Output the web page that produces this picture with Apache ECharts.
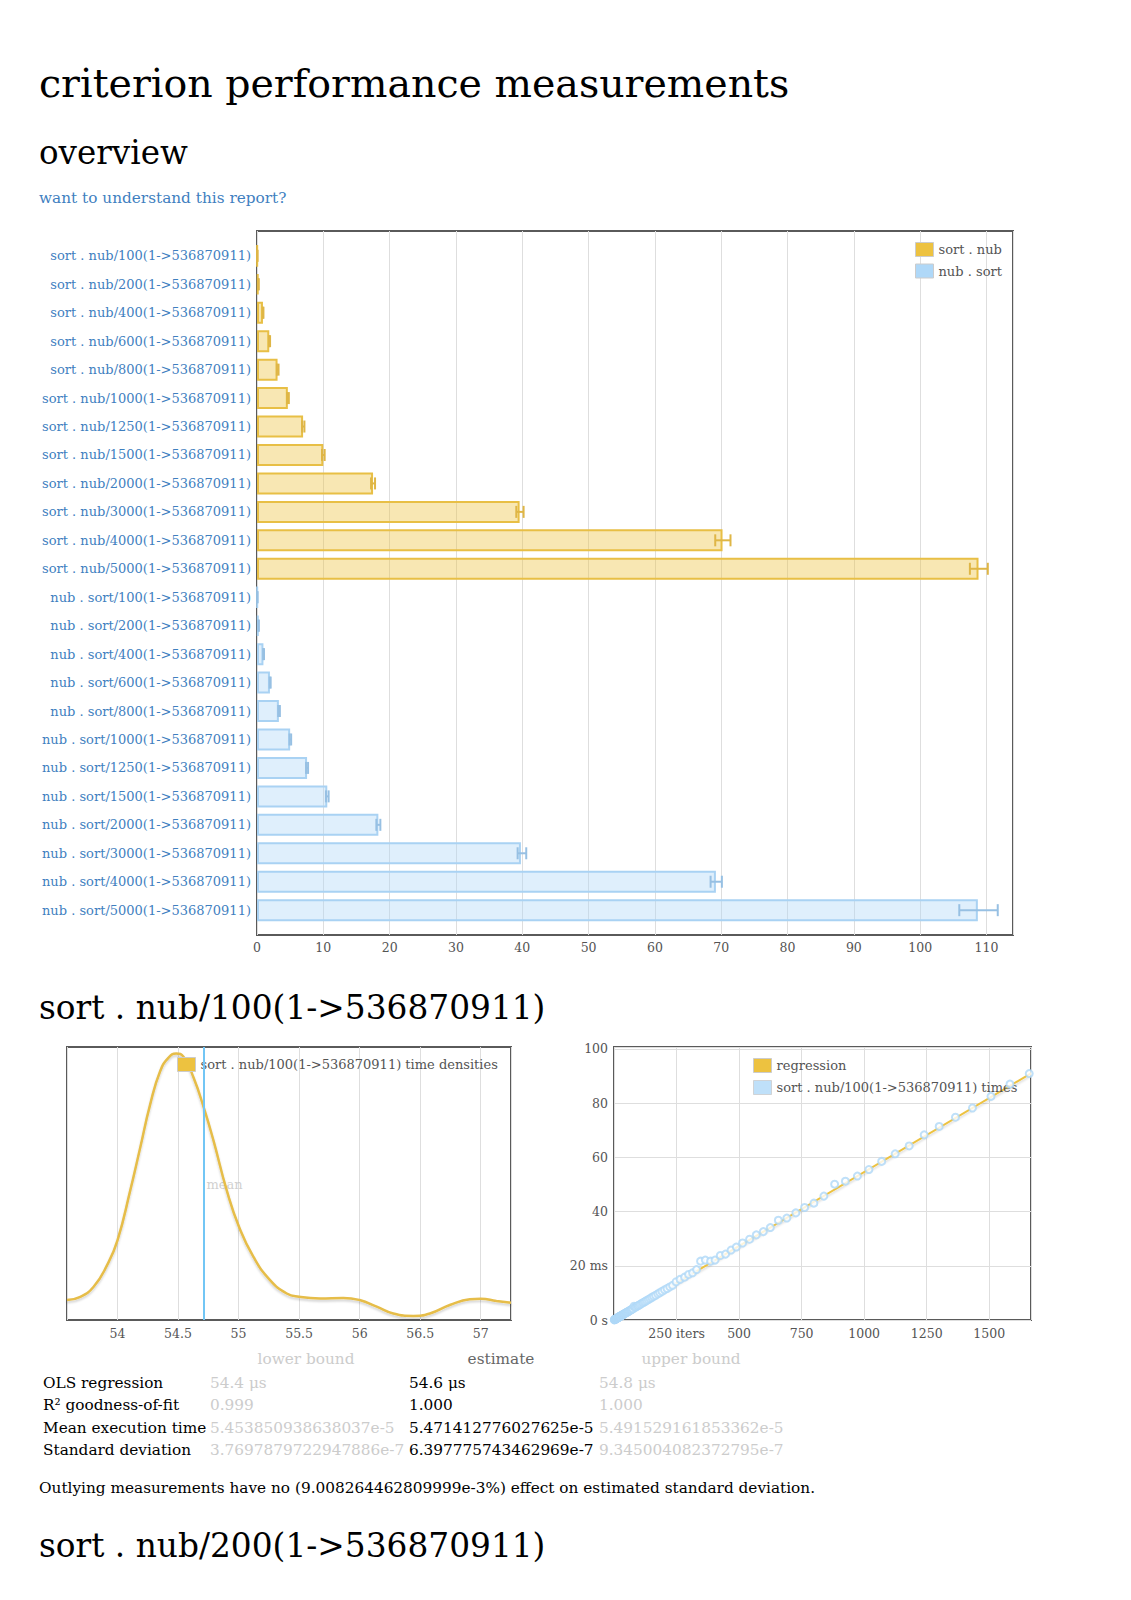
<!DOCTYPE html>
<html><head><meta charset="utf-8">
<script src="https://cdn.jsdelivr.net/npm/echarts@6/dist/echarts.min.js"></script>
<style>html,body{margin:0;padding:0;background:#fff}#c{width:1131px;height:1600px}</style>
</head><body><div id="c"></div>
<script>
// ---------- data ----------
var sortNubLabels = ['sort . nub/100(1->536870911)','sort . nub/200(1->536870911)','sort . nub/400(1->536870911)','sort . nub/600(1->536870911)','sort . nub/800(1->536870911)','sort . nub/1000(1->536870911)','sort . nub/1250(1->536870911)','sort . nub/1500(1->536870911)','sort . nub/2000(1->536870911)','sort . nub/3000(1->536870911)','sort . nub/4000(1->536870911)','sort . nub/5000(1->536870911)'];
var nubSortLabels = ['nub . sort/100(1->536870911)','nub . sort/200(1->536870911)','nub . sort/400(1->536870911)','nub . sort/600(1->536870911)','nub . sort/800(1->536870911)','nub . sort/1000(1->536870911)','nub . sort/1250(1->536870911)','nub . sort/1500(1->536870911)','nub . sort/2000(1->536870911)','nub . sort/3000(1->536870911)','nub . sort/4000(1->536870911)','nub . sort/5000(1->536870911)'];
var sortNubMean = [0.055, 0.22, 0.9, 1.85, 3.1, 4.65, 6.95, 10.0, 17.5, 39.6, 70.2, 108.8];
var sortNubLo   = [0.054, 0.21, 0.88, 1.8, 3.0, 4.55, 6.8, 9.8, 17.2, 39.1, 69.1, 107.5];
var sortNubHi   = [0.057, 0.25, 0.97, 1.97, 3.25, 4.8, 7.15, 10.2, 17.8, 40.2, 71.4, 110.2];
var nubSortMean = [0.06, 0.24, 0.97, 1.95, 3.3, 5.0, 7.55, 10.6, 18.3, 39.8, 69.2, 108.7];
var nubSortLo   = [0.058, 0.23, 0.93, 1.9, 3.2, 4.9, 7.4, 10.4, 18.0, 39.3, 68.4, 105.9];
var nubSortHi   = [0.066, 0.27, 1.06, 2.06, 3.45, 5.15, 7.7, 10.8, 18.6, 40.6, 70.1, 111.7];

var densityX = [53.583, 53.693, 53.803, 53.913, 54.0, 54.105, 54.188, 54.27, 54.353, 54.422, 54.485, 54.545, 54.628, 54.716, 54.793, 54.903, 55.005, 55.123, 55.26, 55.398, 55.5, 55.673, 55.865, 56.0, 56.141, 56.278, 56.443, 56.58, 56.745, 56.91, 57.0, 57.13, 57.25];
var densityY = [0.073, 0.085, 0.122, 0.2, 0.292, 0.474, 0.632, 0.79, 0.912, 0.961, 0.976, 0.964, 0.888, 0.773, 0.657, 0.474, 0.34, 0.231, 0.146, 0.097, 0.085, 0.079, 0.081, 0.073, 0.049, 0.024, 0.015, 0.024, 0.055, 0.076, 0.078, 0.07, 0.063];
var meanEstimate = 54.714;

var timesIters = [1,2,3,4,5,6,7,8,9,10,11,12,13,14,15,16,17,18,19,20,21,22,23,24,25,27,28,30,31,33,35,36,38,40,42,44,47,49,52,54,57,60,63,66,69,73,76,80,84,88,93,97,102,107,113,118,124,130,137,144,151,158,166,175,183,192,202,212,223,234,248,264,282,298,314,330,346,365,386,404,425,446,468,489,514,542,569,597,625,657,691,727,762,799,839,882,925,973,1019,1070,1124,1180,1240,1300,1365,1433,1507,1583,1660];
var timesMs = [0.06,0.11,0.17,0.22,0.28,0.33,0.39,0.44,0.5,0.55,0.61,0.66,0.72,0.77,0.83,0.88,0.94,0.99,1.05,1.1,1.16,1.21,1.27,1.32,1.38,1.49,1.55,1.66,1.71,1.82,1.93,1.99,2.1,2.2,2.32,2.42,2.6,2.7,2.86,2.97,3.14,3.3,3.47,3.63,3.8,4.0,4.19,5.1,4.62,4.85,5.12,5.33,5.6,5.88,6.2,6.5,6.8,7.15,7.5,7.9,8.3,8.7,9.1,9.6,10.05,10.55,11.1,11.6,12.2,12.8,14.1,15.0,15.8,16.8,17.4,18.6,21.7,22.1,21.7,22.1,23.8,24.3,25.8,26.9,28.4,29.8,31.4,32.6,34.1,36.8,37.6,39.5,41.5,43.1,45.7,50.1,51.2,53.1,55.5,58.5,61.3,64.2,68.3,71.4,74.8,78.2,82.5,87.0,90.9];
var regressionIters = [0, 1667];
var regressionMs = [0, 91.0];

var tableHeader = ['lower bound', 'estimate', 'upper bound'];
var tableRowLabels = ['OLS regression', 'R\u00b2 goodness-of-fit', 'Mean execution time', 'Standard deviation'];
var tableLower = ['54.4 \u03bcs', '0.999', '5.453850938638037e-5', '3.7697879722947886e-7'];
var tableEstimate = ['54.6 \u03bcs', '1.000', '5.471412776027625e-5', '6.397775743462969e-7'];
var tableUpper = ['54.8 \u03bcs', '1.000', '5.491529161853362e-5', '9.345004082372795e-7'];

// ---------- build ----------
var serif = "'DejaVu Serif', serif";
var categories = sortNubLabels.concat(nubSortLabels);
var blank = sortNubLabels.map(function(){ return '-'; });
var sortNubBars = sortNubMean.concat(blank);
var nubSortBars = blank.concat(nubSortMean);
var sortNubErr = sortNubLo.map(function(v, i){ return [v, sortNubHi[i], i]; });
var nubSortErr = nubSortLo.map(function(v, i){ return [v, nubSortHi[i], i + sortNubLabels.length]; });
var densityData = densityX.map(function(x, i){ return [x, densityY[i]]; });
var timesData = timesIters.map(function(x, i){ return [x, timesMs[i]]; });
var regressionData = regressionIters.map(function(x, i){ return [x, regressionMs[i]]; });

function renderErr(params, api) {
  var y = api.value(2);
  var p1 = api.coord([api.value(0), y]);
  var p2 = api.coord([api.value(1), y]);
  var h = 6;
  var st = { stroke: api.visual('color'), lineWidth: 2 };
  return { type: 'group', children: [
    { type: 'line', shape: { x1: p1[0], y1: p1[1], x2: p2[0], y2: p2[1] }, style: st },
    { type: 'line', shape: { x1: p1[0], y1: p1[1] - h, x2: p1[0], y2: p1[1] + h }, style: st },
    { type: 'line', shape: { x1: p2[0], y1: p2[1] - h, x2: p2[0], y2: p2[1] + h }, style: st }
  ]};
}

function txt(s, x, y, size, color, align) {
  return { type: 'text', x: x, y: y, silent: true,
    style: { text: s, fontSize: size, fontFamily: serif, fill: color,
      align: align || 'left', textAlign: align || 'left', verticalAlign: 'middle', textVerticalAlign: 'middle' } };
}

var bodySize = 15.3;
var graphics = [
  txt('criterion performance measurements', 39, 83, 39.5, '#000'),
  txt('overview', 39, 153, 32.6, '#000'),
  txt('want to understand this report?', 39, 197.8, 15.3, '#3f7fbf'),
  txt('sort . nub/100(1->536870911)', 39, 1008, 32.8, '#000'),
  txt('sort . nub/200(1->536870911)', 39, 1545.8, 32.8, '#000'),
  txt(tableHeader[0], 306, 1358.6, bodySize, '#cccccc', 'center'),
  txt(tableHeader[1], 501, 1358.6, bodySize, '#666666', 'center'),
  txt(tableHeader[2], 691, 1358.6, bodySize, '#cccccc', 'center'),
  txt('Outlying measurements have no (9.008264462809999e-3%) effect on estimated standard deviation.', 39, 1488, bodySize, '#000')
];
var rowY = [1382.8, 1405.3, 1427.8, 1450.4];
tableRowLabels.forEach(function(l, i){
  graphics.push(txt(l, 43, rowY[i], bodySize, '#000'));
  graphics.push(txt(tableLower[i], 210, rowY[i], bodySize, '#cccccc'));
  graphics.push(txt(tableEstimate[i], 409, rowY[i], bodySize, '#000'));
  graphics.push(txt(tableUpper[i], 599, rowY[i], bodySize, '#cccccc'));
});

var frame = '#5a5a5a';
var gridLine = { lineStyle: { color: '#dedede', width: 1 } };
var tickLbl = { color: '#545454', fontSize: 12.5, fontFamily: serif };
var legendText = { color: '#545454', fontSize: 13, fontFamily: serif };

var option = {
  animation: false,
  textStyle: { fontFamily: serif },
  graphic: graphics,
  grid: [
    { left: 257, top: 231, width: 756, height: 704, show: true, borderColor: frame, borderWidth: 2 },
    { left: 257, top: 241.6, width: 756, height: 682.8, show: false },
    { left: 67, top: 1047, width: 444, height: 273, show: true, borderColor: frame, borderWidth: 2 },
    { left: 614, top: 1047, width: 417, height: 273, show: true, borderColor: frame, borderWidth: 2 }
  ],
  xAxis: [
    { gridIndex: 0, type: 'value', min: 0, max: 114, interval: 10, axisLine: { show: false }, axisTick: { show: false },
      axisLabel: Object.assign({ margin: 6, showMaxLabel: false }, tickLbl), splitLine: gridLine },
    { gridIndex: 1, type: 'value', min: 0, max: 114, show: false },
    { gridIndex: 2, type: 'value', min: 53.583, max: 57.25, splitNumber: 7, axisLine: { show: false }, axisTick: { show: false },
      axisLabel: Object.assign({ margin: 7, showMinLabel: false, showMaxLabel: false }, tickLbl), splitLine: gridLine },
    { gridIndex: 3, type: 'value', min: 0, max: 1667, interval: 250, axisLine: { show: false }, axisTick: { show: false },
      axisLabel: Object.assign({ margin: 7, showMinLabel: false, showMaxLabel: false,
        formatter: function(v){ return v === 250 ? '250 iters' : String(v); } }, tickLbl), splitLine: gridLine }
  ],
  yAxis: [
    { gridIndex: 0, type: 'value', min: 0, max: 1, show: false },
    { gridIndex: 1, type: 'category', inverse: true, data: categories, axisLine: { show: false }, axisTick: { show: false },
      axisLabel: { margin: 6, color: '#3f7fbf', fontSize: 13, fontFamily: serif } },
    { gridIndex: 2, type: 'value', min: 0, max: 1, show: false },
    { gridIndex: 3, type: 'value', min: 0, max: 100.7, interval: 20, axisLine: { show: false }, axisTick: { show: false },
      axisLabel: Object.assign({ margin: 6, showMaxLabel: false,
        formatter: function(v){ return v === 0 ? '0 s' : (v === 20 ? '20 ms' : String(v)); } }, tickLbl), splitLine: gridLine }
  ],
  legend: [
    { orient: 'vertical', left: 915, top: 242, padding: 0, itemGap: 6.5, itemWidth: 18, itemHeight: 14, icon: 'rect',
      selectedMode: false, textStyle: legendText, itemStyle: { borderColor: '#cccccc', borderWidth: 1 },
      data: [ { name: 'sort . nub', itemStyle: { color: '#edc240' } }, { name: 'nub . sort', itemStyle: { color: '#afd8f8' } } ] },
    { orient: 'vertical', left: 177, top: 1057, padding: 0, itemWidth: 18, itemHeight: 14, icon: 'rect',
      selectedMode: false, textStyle: legendText, itemStyle: { borderColor: '#cccccc', borderWidth: 1 },
      data: [ { name: 'sort . nub/100(1->536870911) time densities', itemStyle: { color: '#edc240' } } ] },
    { orient: 'vertical', left: 753, top: 1058, padding: 0, itemGap: 7, itemWidth: 18, itemHeight: 14, icon: 'rect',
      selectedMode: false, textStyle: legendText, itemStyle: { borderColor: '#cccccc', borderWidth: 1 },
      data: [ { name: 'regression', itemStyle: { color: '#edc240' } }, { name: 'sort . nub/100(1->536870911) times', itemStyle: { color: '#afd8f8' } } ] }
  ],
  series: [
    { name: 'sort . nub', type: 'bar', xAxisIndex: 1, yAxisIndex: 1, data: sortNubBars, barWidth: 22, barGap: '-100%',
      itemStyle: { color: 'rgba(237,194,64,0.4)', borderColor: '#e8bf45', borderWidth: 2 } },
    { name: 'nub . sort', type: 'bar', xAxisIndex: 1, yAxisIndex: 1, data: nubSortBars, barWidth: 22, barGap: '-100%',
      itemStyle: { color: 'rgba(175,216,248,0.4)', borderColor: '#a9d2f3', borderWidth: 2 } },
    { name: 'sort . nub err', type: 'custom', xAxisIndex: 1, yAxisIndex: 1, data: sortNubErr, renderItem: renderErr,
      encode: { x: [0, 1], y: 2 }, itemStyle: { color: '#dfb646' }, z: 5, silent: true },
    { name: 'nub . sort err', type: 'custom', xAxisIndex: 1, yAxisIndex: 1, data: nubSortErr, renderItem: renderErr,
      encode: { x: [0, 1], y: 2 }, itemStyle: { color: '#97c0e3' }, z: 5, silent: true },
    { name: 'sort . nub/100(1->536870911) time densities', type: 'line', xAxisIndex: 2, yAxisIndex: 2, data: densityData,
      smooth: true, symbol: 'none', lineStyle: { color: '#e6bd48', width: 2.5, shadowColor: 'rgba(0,0,0,0.18)', shadowBlur: 2, shadowOffsetY: 2 },
      itemStyle: { color: '#edc240' },
      markLine: { silent: true, symbol: 'none', label: { show: false }, lineStyle: { color: '#72c6f5', width: 2, type: 'solid' },
        data: [ { xAxis: meanEstimate } ] } },
    { name: 'mean', type: 'scatter', xAxisIndex: 2, yAxisIndex: 2, data: [[meanEstimate, 0.498]], symbolSize: 1,
      itemStyle: { color: 'rgba(0,0,0,0)' }, silent: true,
      label: { show: true, formatter: 'mean', position: 'right', distance: 2, color: '#c4c4c4', fontSize: 13, fontFamily: serif } },
    { name: 'regression', type: 'line', xAxisIndex: 3, yAxisIndex: 3, data: regressionData, symbol: 'none',
      lineStyle: { color: '#edc240', width: 2, shadowColor: 'rgba(0,0,0,0.15)', shadowBlur: 2, shadowOffsetY: 2 }, itemStyle: { color: '#edc240' } },
    { name: 'sort . nub/100(1->536870911) times', type: 'scatter', xAxisIndex: 3, yAxisIndex: 3, data: timesData, symbolSize: 7,
      itemStyle: { color: '#ffffff', borderColor: '#afd8f8', borderWidth: 2 }, z: 4 }
  ]
};

var chart = echarts.init(document.getElementById('c'), null, { renderer: 'svg', width: 1131, height: 1600 });
chart.setOption(option);
</script></body></html>
